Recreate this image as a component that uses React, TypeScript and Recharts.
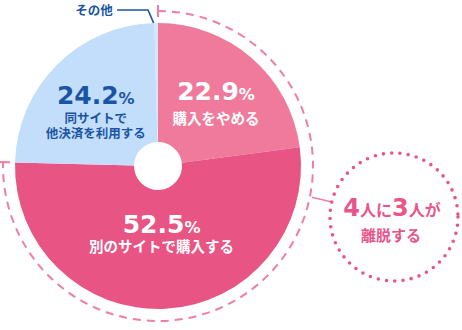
import React from 'react';
import { PieChart, Pie, Cell, Customized } from 'recharts';

const categories = ['購入をやめる', '別のサイトで購入する', '同サイトで他決済を利用する', 'その他'];
const values = [22.9, 52.5, 24.2, 0.4];
const labelLines = [['購入をやめる'], ['別のサイトで購入する'], ['同サイトで', '他決済を利用する'], []];
const colors = ['#EF7A9B', '#E85483', '#C3DEFA', '#D3E7FB'];
const labelColors = ['#FFFFFF', '#FFFFFF', '#1A55A4', '#1A55A4'];
const otherLabel = 'その他';
const calloutBig = ['4', '3'];
const calloutSmall = ['人に', '人が'];
const calloutLine2 = '離脱する';

const data = categories.map((name, i) => ({ name, value: values[i] }));
const total = values.reduce((a, b) => a + b, 0);

const W = 462;
const H = 330;
const CX = 158;
const CY = 166;
const R = 143;
const R_IN = 24;
const ARC_R = 155;
const RAD = Math.PI / 180;
const NUM_FONT = "'DejaVu Sans', 'Noto Sans CJK JP', sans-serif";
const JP_FONT = "'Noto Sans CJK JP', sans-serif";
const PINK = '#F07EA0';
const CALLOUT = '#E8558A';
const NAVY = '#1A55A4';

const polar = (r: number, deg: number) => ({ x: CX + r * Math.cos(deg * RAD), y: CY - r * Math.sin(deg * RAD) });

const renderLabel = (props: any) => {
  const { midAngle, index } = props;
  if (index >= 3) return <g key={`lbl-${index}`} />;
  const r = index === 1 ? 67 : 88;
  const p = { x: CX + r * Math.cos(-midAngle * RAD), y: CY + r * Math.sin(-midAngle * RAD) };
  const fill = labelColors[index];
  const lines = labelLines[index];
  const small = index === 2;
  const fs = small ? 12.5 : 14.5;
  const firstGap = index === 0 ? 24 : 19.5;
  return (
    <g key={`lbl-${index}`}>
      <text x={p.x} y={p.y} textAnchor="middle" fill={fill} fontWeight="bold">
        <tspan fontFamily={NUM_FONT} fontSize={25}>{values[index].toFixed(1)}</tspan>
        <tspan fontFamily={NUM_FONT} fontSize={16}>%</tspan>
        {lines.map((ln, j) => (
          <tspan key={j} x={p.x} y={p.y + firstGap + j * 14.5} fontFamily={JP_FONT} fontWeight={700} fontSize={fs}>
            {ln}
          </tspan>
        ))}
      </text>
    </g>
  );
};

const Overlay = () => {
  const bounds: number[] = [];
  let cum = 0;
  for (let i = 0; i < values.length; i++) {
    bounds.push(90 - (360 * cum) / total);
    cum += values[i];
  }
  const pinkShare = (values[0] + values[1]) / total;
  const a0 = 90;
  const a1 = 90 - 360 * pinkShare;
  const s = polar(ARC_R, a0);
  const e = polar(ARC_R, a1);
  const large = 360 * pinkShare > 180 ? 1 : 0;
  const arcPath = `M ${s.x} ${s.y} A ${ARC_R} ${ARC_R} 0 ${large} 1 ${e.x} ${e.y}`;
  const t0a = polar(149, a0);
  const t0b = polar(161, a0);
  const t1a = polar(148, a1);
  const t1b = polar(162, a1);
  const cc = { x: 394, y: 217 };
  const cr = 64;
  const ls = polar(ARC_R + 2, -11.5);
  const dx = ls.x - cc.x;
  const dy = ls.y - cc.y;
  const dl = Math.sqrt(dx * dx + dy * dy);
  const le = { x: cc.x + (dx / dl) * (cr + 1), y: cc.y + (dy / dl) * (cr + 1) };
  const otherMid = 90 + (360 * values[3]) / total / 2 + 1;
  const op = polar(R, otherMid);
  return (
    <g>
      {bounds.map((b, i) => {
        const p1 = polar(R_IN, b);
        const p2 = polar(R, b);
        return <line key={i} x1={p1.x} y1={p1.y} x2={p2.x} y2={p2.y} stroke="#FFFFFF" strokeWidth={1.4} strokeDasharray="4 3" />;
      })}
      <path d={arcPath} fill="none" stroke={PINK} strokeWidth={2} strokeDasharray="8 6" />
      <line x1={t0a.x} y1={t0a.y} x2={t0b.x} y2={t0b.y} stroke={PINK} strokeWidth={2} />
      <line x1={t1a.x} y1={t1a.y} x2={t1b.x} y2={t1b.y} stroke={PINK} strokeWidth={2} />
      <line x1={ls.x} y1={ls.y} x2={le.x} y2={le.y} stroke={PINK} strokeWidth={1.5} />
      <circle cx={cc.x} cy={cc.y} r={cr} fill="none" stroke={CALLOUT} strokeWidth={3.6} strokeDasharray="0 8.3" strokeLinecap="round" />
      <text x={cc.x - 2} y={cc.y - 1} textAnchor="middle" fill={CALLOUT} fontWeight="bold">
        <tspan fontFamily={NUM_FONT} fontSize={24}>{calloutBig[0]}</tspan>
        <tspan fontFamily={JP_FONT} fontSize={16}>{calloutSmall[0]}</tspan>
        <tspan fontFamily={NUM_FONT} fontSize={24}>{calloutBig[1]}</tspan>
        <tspan fontFamily={JP_FONT} fontSize={16}>{calloutSmall[1]}</tspan>
      </text>
      <text x={cc.x - 3} y={cc.y + 24} textAnchor="middle" fill={CALLOUT} fontFamily={JP_FONT} fontWeight={700} fontSize={15}>
        {calloutLine2}
      </text>
      <polyline points={`117,10 148,10 ${op.x},${op.y}`} fill="none" stroke={NAVY} strokeWidth={1.6} />
      <text x={94} y={14.5} textAnchor="middle" fill={NAVY} fontFamily={JP_FONT} fontWeight={700} fontSize={12.5}>
        {otherLabel}
      </text>
    </g>
  );
};

export default function App() {
  return (
    <div style={{ position: 'absolute', left: 0, top: 0, width: W, height: H, background: '#fff' }}>
      <PieChart width={W} height={H} margin={{ top: 0, right: 0, bottom: 0, left: 0 }}>
        <Pie
          data={data}
          dataKey="value"
          nameKey="name"
          cx={CX}
          cy={CY}
          outerRadius={R}
          innerRadius={R_IN}
          startAngle={90}
          endAngle={-270}
          stroke="none"
          label={renderLabel}
          labelLine={false}
          isAnimationActive={false}
        >
          {data.map((d, i) => (
            <Cell key={d.name} fill={colors[i]} />
          ))}
        </Pie>
        <Customized component={Overlay} />
      </PieChart>
    </div>
  );
}
